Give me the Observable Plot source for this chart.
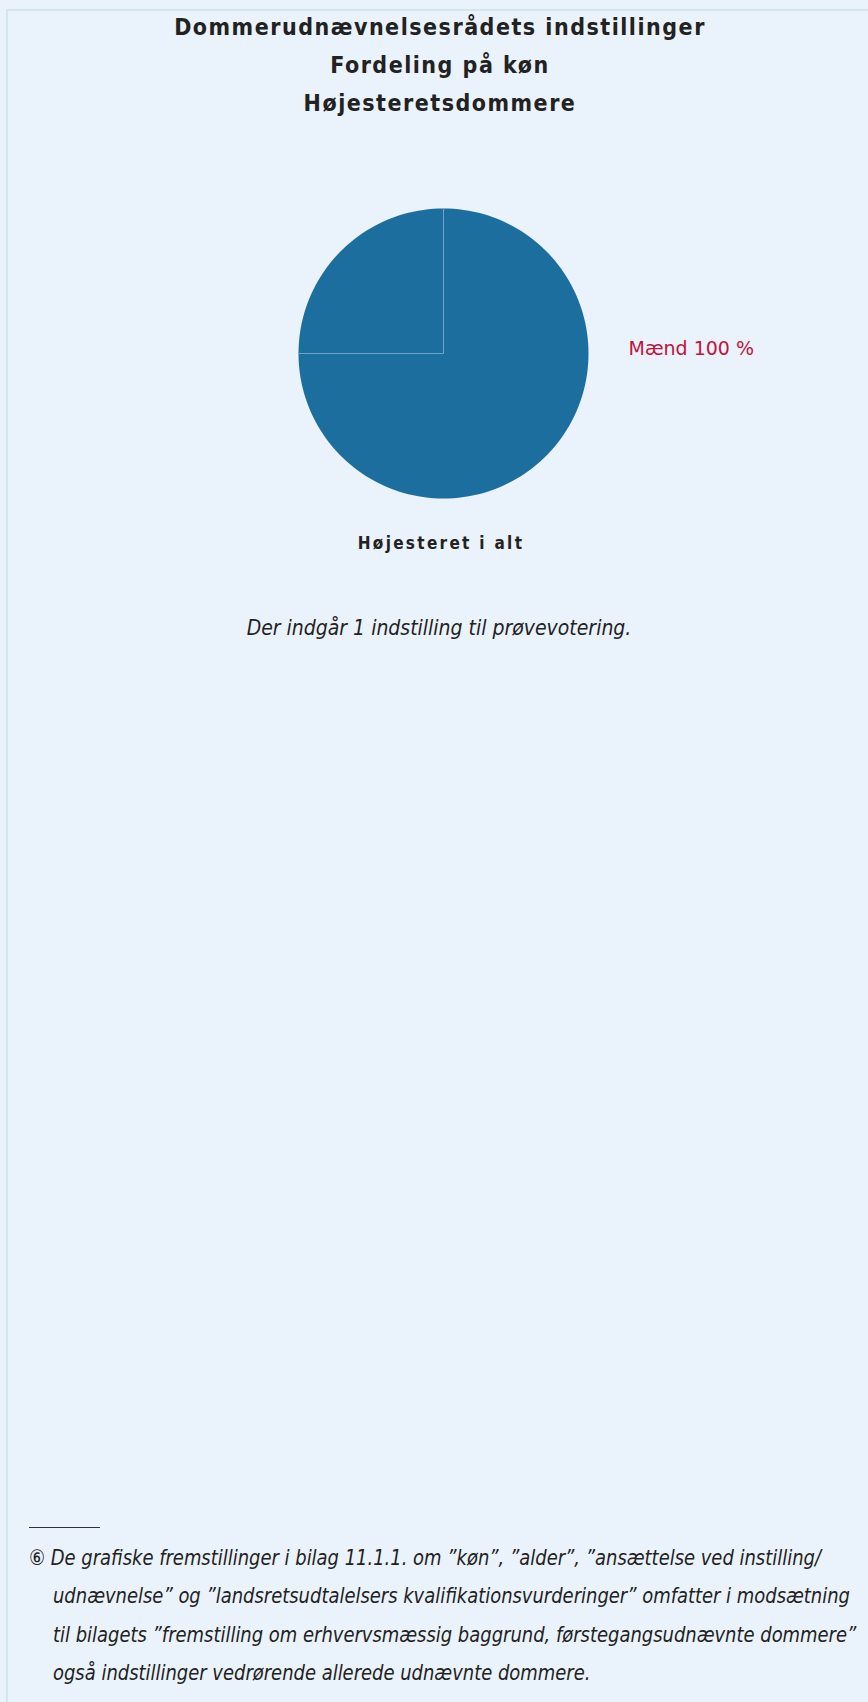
<!DOCTYPE html>
<html>
<head>
<meta charset="utf-8">
<script src="https://cdn.jsdelivr.net/npm/d3@7"></script>
<script src="https://cdn.jsdelivr.net/npm/@observablehq/plot@0.6"></script>
<style>
  html, body { margin: 0; padding: 0; background: #eaf2fb; }
  body { width: 868px; height: 1702px; position: relative; overflow: hidden; }
  #panel { position: absolute; left: 6px; top: 9px; right: 0; bottom: 0;
           border-top: 2px solid #d3e5ef; border-left: 2px solid #d3e5ef; }
  .title { position: absolute; left: 0; width: 880px; text-align: center;
           font-family: "DejaVu Sans Condensed", "DejaVu Sans", sans-serif; font-weight: bold;
           font-size: 23px; letter-spacing: 1.5px; color: #222; line-height: 38px; top: 8px; }
  #chart { position: absolute; left: 0; top: 150px; }
  .sub { position: absolute; left: 0; width: 882px; text-align: center;
         font-family: "DejaVu Sans Condensed", "DejaVu Sans", sans-serif; font-weight: bold;
         font-size: 17px; letter-spacing: 2.3px; color: #222; top: 533px; }
  .note { position: absolute; left: 0; width: 878px; text-align: center;
          font-family: "DejaVu Sans Condensed", sans-serif; font-style: italic;
          font-size: 21px; color: #222; top: 616px; }
  #rule { position: absolute; left: 29px; top: 1527px; width: 71px; border-top: 1.5px solid #333; }
  .fn { position: absolute; left: 29px; font-family: "DejaVu Sans Condensed", sans-serif;
        font-style: italic; font-size: 21.5px; color: #222; white-space: nowrap; line-height: 38.3px; top: 1539px; }
  .fn div { padding-left: 24px; }
  .fn div:first-child { padding-left: 0; }
  .fn span { display: inline-block; transform-origin: 0 50%; }
</style>
</head>
<body>
<div id="panel"></div>
<div class="title" id="title"></div>
<div id="chart"></div>
<div class="sub" id="sub"></div>
<div class="note" id="note"></div>
<div id="rule"></div>
<div class="fn" id="fn"></div>
<script>
// ---- data ----
const titleLines = ["Dommerudnævnelsesrådets indstillinger", "Fordeling på køn", "Højesteretsdommere"];
const categories = ["Mænd", "Kvinder"];
const values = [100, 0];
const sliceColors = ["#1c6e9e", "#c0143c"];
const pieTitle = "Højesteret i alt";
const noteText = "Der indgår 1 indstilling til prøvevotering.";
const footnoteLines = [
  "⑥ De grafiske fremstillinger i bilag 11.1.1. om ”køn”, ”alder”, ”ansættelse ved instilling/",
  "udnævnelse” og ”landsretsudtalelsers kvalifikationsvurderinger” omfatter i modsætning",
  "til bilagets ”fremstilling om erhvervsmæssig baggrund, førstegangsudnævnte dommere”",
  "også indstillinger vedrørende allerede udnævnte dommere."
];
const seamAngles = [0, 270]; // thin seams visible in the original rendering (degrees, clockwise from top)

// ---- text ----
document.getElementById("title").innerHTML = titleLines.map(t => `<div>${t}</div>`).join("");
document.getElementById("sub").textContent = pieTitle;
document.getElementById("note").textContent = noteText;
const fn = document.getElementById("fn");
fn.innerHTML = footnoteLines.map(t => `<div><span>${t}</span></div>`).join("");
// condense footnote horizontally so the longest line spans the same width as in the original
{
  const spans = fn.querySelectorAll("span");
  const w = spans[1].getBoundingClientRect().width;
  const k = 797 / w;
  spans.forEach(s => { s.style.transform = `scaleX(${k})`; });
}

// ---- pie geometry from data ----
const rows = categories.map((c, i) => ({category: c, value: values[i], color: sliceColors[i]}));
const arcs = d3.pie().sort(null).value(d => d.value)(rows);
const pts = [];
for (const a of arcs) {
  if (a.endAngle - a.startAngle <= 0) continue;
  const n = 180;
  pts.push({slice: a.data.category, x: 0, y: 0, color: a.data.color});
  for (let k = 0; k <= n; k++) {
    const t = a.startAngle + (a.endAngle - a.startAngle) * k / n;
    pts.push({slice: a.data.category, x: Math.sin(t), y: Math.cos(t), color: a.data.color});
  }
  pts.push({slice: a.data.category, x: 0, y: 0, color: a.data.color});
}
const labels = arcs.filter(a => a.value > 0).map(a => ({text: `${a.data.category} ${a.data.value} %`}));
const seams = seamAngles.map(deg => {
  const t = deg * Math.PI / 180;
  return {x1: 0, y1: 0, x2: Math.sin(t), y2: Math.cos(t)};
});

const cx = 443, cy = 203, r = 145;
const plot = Plot.plot({
  width: 868,
  height: 400,
  margin: 0,
  x: {domain: [-1, 1], range: [cx - r, cx + r], axis: null},
  y: {domain: [-1, 1], range: [cy + r, cy - r], axis: null},
  style: {background: "transparent", overflow: "visible"},
  marks: [
    Plot.line(pts, {x: "x", y: "y", z: "slice", fill: d => d.color, stroke: "none", curve: "linear"}),
    Plot.link(seams, {x1: "x1", y1: "y1", x2: "x2", y2: "y2", stroke: "#6fa3c9", strokeWidth: 1}),
    Plot.text(labels, {x: () => 1, y: () => 0, text: "text", textAnchor: "start", dx: 40, dy: -5,
      fill: "#c0143c", fontSize: 19, fontFamily: "DejaVu Sans, sans-serif"})
  ]
});
document.getElementById("chart").appendChild(plot);
</script>
</body>
</html>
